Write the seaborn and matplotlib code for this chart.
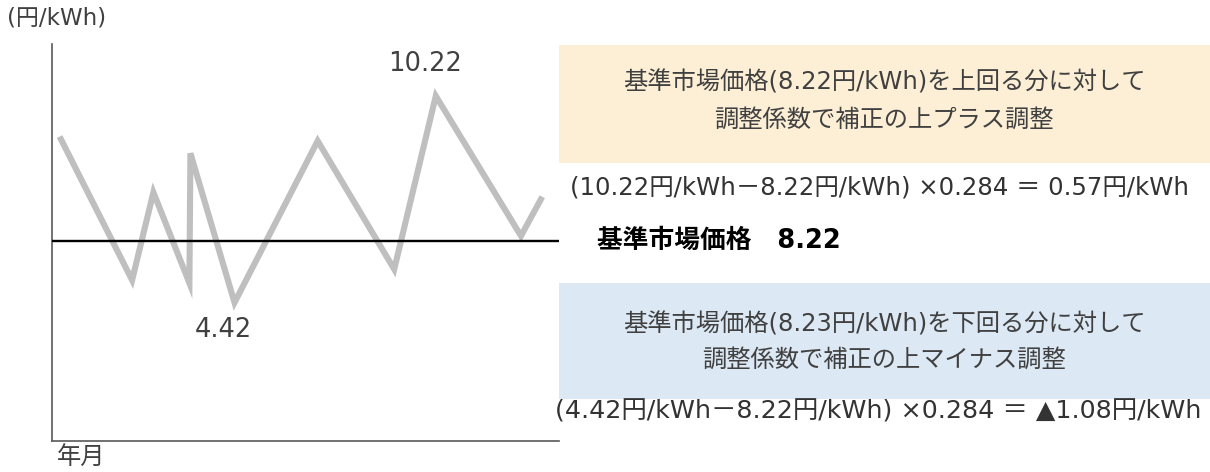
import matplotlib
matplotlib.use("Agg")
import matplotlib.pyplot as plt
import seaborn as sns
import pandas as pd
from matplotlib.patches import Rectangle

# ---- data (conceptual time axis 0-100) ----
x_pos = [1.5, 15.8, 20.0, 27.1, 27.3, 36.0, 52.4, 67.5, 75.7, 92.5, 96.7]
price = [9.66, 7.68, 8.89, 7.64, 9.43, 7.37, 9.60, 7.83, 10.22, 8.29, 8.83]
base_price = 8.22
peak_label = "10.22"
low_label = "4.42"
y_unit = "(円/kWh)"
x_unit = "年月"
up_text = ["基準市場価格(8.22円/kWh)を上回る分に対して", "調整係数で補正の上プラス調整"]
up_formula = "(10.22円/kWh－8.22円/kWh) ×0.284 ＝ 0.57円/kWh"
base_text = "基準市場価格　8.22"
down_text = ["基準市場価格(8.23円/kWh)を下回る分に対して", "調整係数で補正の上マイナス調整"]
down_formula = "(4.42円/kWh－8.22円/kWh) ×0.284 ＝ ▲1.08円/kWh"

sns.set_theme(style="white")
plt.rcParams['font.family'] = ['DejaVu Sans', 'Noto Sans CJK JP']

W, H = 1210, 472
fig = plt.figure(figsize=(W / 100, H / 100), dpi=100)

def fx(px):
    return px / W

def fy(py):
    return 1 - py / H

ax = fig.add_axes([fx(52), fy(441), fx(559) - fx(52), fy(44) - fy(441)])
df = pd.DataFrame({"x": x_pos, "price": price})
sns.lineplot(data=df, x="x", y="price", ax=ax, color="#BFBFBF", linewidth=4.4,
             sort=False, solid_joinstyle="miter", solid_capstyle="butt")
ax.axhline(base_price, color="black", linewidth=1.7, zorder=3)
ax.set_xlim(0, 100)
ax.set_ylim(5.461, 10.937)
ax.set_xticks([])
ax.set_yticks([])
ax.set_xlabel("")
ax.set_ylabel("")
for s in ["top", "right"]:
    ax.spines[s].set_visible(False)
for s in ["left", "bottom"]:
    ax.spines[s].set_color("#595959")
    ax.spines[s].set_linewidth(1.2)

txt = "#404040"
# value labels
fig.text(fx(425), fy(64), peak_label, ha="center", va="center", fontsize=18.5, color=txt)
fig.text(fx(223), fy(330), low_label, ha="center", va="center", fontsize=18.5, color=txt)
fig.text(fx(7), fy(18), y_unit, ha="left", va="center", fontsize=16.5, color=txt)
fig.text(fx(57), fy(458), x_unit, ha="left", va="center", fontsize=17.5, color=txt)

# colored boxes
fig.patches.append(Rectangle((fx(559), fy(163)), fx(1210) - fx(559), fy(45) - fy(163),
                             transform=fig.transFigure, facecolor="#FCEFD6", edgecolor="none", zorder=0))
fig.patches.append(Rectangle((fx(559), fy(399)), fx(1210) - fx(559), fy(283) - fy(399),
                             transform=fig.transFigure, facecolor="#DCE8F4", edgecolor="none", zorder=0))

cx = fx(884)
fig.text(cx, fy(82), up_text[0], ha="center", va="center", fontsize=17.5, color=txt)
fig.text(cx, fy(120), up_text[1], ha="center", va="center", fontsize=17.5, color=txt)
fig.text(fx(570), fy(188), up_formula, ha="left", va="center", fontsize=17.6, color="#333333")
fig.text(fx(597), fy(241), base_text, ha="left", va="center", fontsize=18.5, fontweight="bold", color="black")
fig.text(cx, fy(324), down_text[0], ha="center", va="center", fontsize=17.5, color=txt)
fig.text(cx, fy(360), down_text[1], ha="center", va="center", fontsize=17.5, color=txt)
fig.text(fx(555), fy(412), down_formula, ha="left", va="center", fontsize=18.3, color="#333333")

fig.savefig("out.png", dpi=100)
